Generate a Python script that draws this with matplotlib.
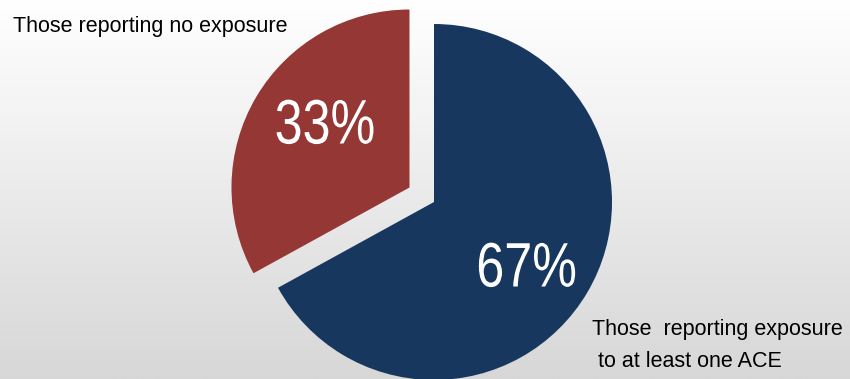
import numpy as np
import matplotlib.pyplot as plt
from matplotlib.colors import LinearSegmentedColormap
from matplotlib.font_manager import FontProperties
from matplotlib.textpath import TextPath
from matplotlib.patches import PathPatch
from matplotlib.transforms import Affine2D

# data
groups = ["Those reporting no exposure", "Those  reporting exposure\n to at least one ACE"]
shares = [33, 67]
colors = ["#953735", "#17375E"]

W, H, dpi = 850, 379, 100
fig = plt.figure(figsize=(W / dpi, H / dpi), dpi=dpi)

# gradient background, white on top going to light grey at the bottom
bg = fig.add_axes([0, 0, 1, 1], zorder=0)
grad = np.linspace(0.0, 1.0, 256).reshape(-1, 1)
bg.imshow(grad, aspect="auto", extent=[0, 1, 0, 1], origin="lower",
          cmap=LinearSegmentedColormap.from_list("bg", ["#d7d7d7", "#ffffff"]))
bg.axis("off")

ax = fig.add_axes([0, 0, 1, 1], zorder=1)
ax.patch.set_alpha(0)
r_px = 178.0
cx, cy = 434.0, 202.0

wedges, texts, autotexts = ax.pie(shares, colors=colors, startangle=90, counterclock=True,
                                  explode=[0.16, 0], autopct="%d%%", radius=1.0, frame=True)
ax.axis("off")
ax.set_xlim(-cx / r_px, (W - cx) / r_px)
ax.set_ylim(-(H - cy) / r_px, cy / r_px)

# narrow-looking percentage labels (horizontally squeezed Liberation Sans)
pct_centers_px = [(325, 121), (527, 264)]
prop = FontProperties(family="Liberation Sans")
size = 0.353
for t, (px, py) in zip(autotexts, pct_centers_px):
    s = t.get_text()
    t.set_visible(False)
    tp = TextPath((0, 0), s, size=size, prop=prop)
    bb = tp.get_extents()
    x0 = (px - cx) / r_px
    y0 = (cy - py) / r_px
    tr = (Affine2D().translate(-(bb.x0 + bb.x1) / 2, -0.716 * size / 2)
          .scale(0.8, 1.0).translate(x0, y0))
    ax.add_patch(PathPatch(tr.transform_path(tp), facecolor="white", edgecolor="none", zorder=5))

label_font = dict(fontsize=15.5, family=["Liberation Sans", "DejaVu Sans"], color="black")
fig.text(13 / W, 1 - 32 / H, groups[0], ha="left", va="baseline", **label_font)
fig.text(592 / W, 1 - 335 / H, groups[1].split("\n")[0], ha="left", va="baseline", **label_font)
fig.text(592 / W, 1 - 367 / H, groups[1].split("\n")[1], ha="left", va="baseline", **label_font)

fig.savefig("out.png", dpi=dpi)
